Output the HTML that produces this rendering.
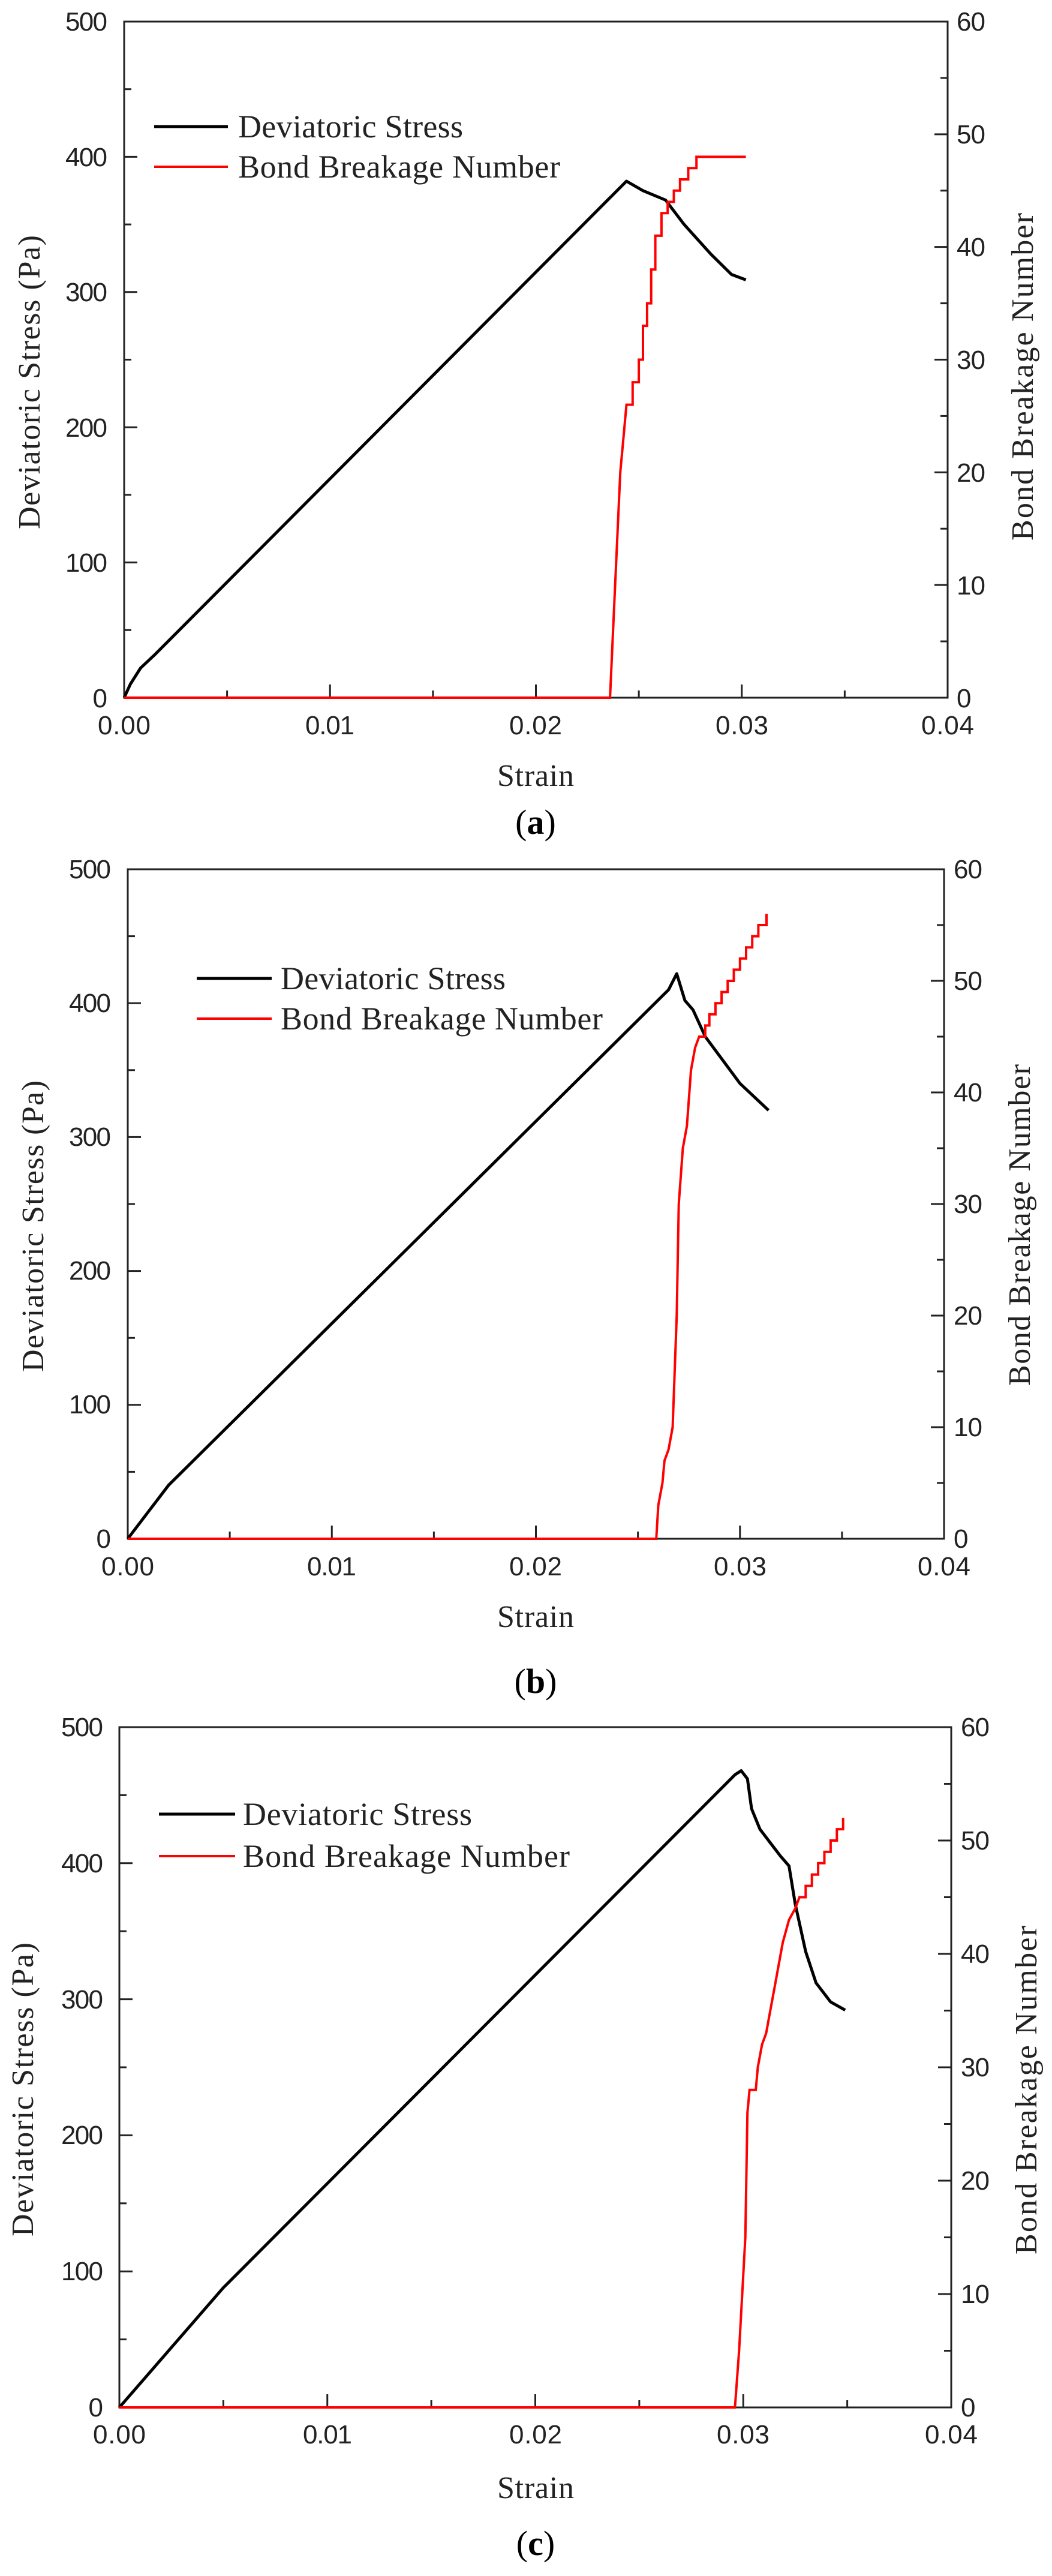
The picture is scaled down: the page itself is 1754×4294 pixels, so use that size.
<!DOCTYPE html>
<html><head><meta charset="utf-8"><style>
html,body{margin:0;padding:0;background:#fff}
svg{display:block}
.tk{font-family:"Liberation Sans",sans-serif;font-size:44px;fill:#222}
.lab{font-family:"Liberation Serif",serif;font-size:52px;fill:#222}
.leg{font-family:"Liberation Serif",serif;font-size:54px;fill:#222}
.cap{font-family:"Liberation Serif",serif;font-size:58px;fill:#000}
</style></head><body>
<svg id="s" width="1754" height="4294" viewBox="0 0 1754 4294" xmlns="http://www.w3.org/2000/svg">
<rect width="1754" height="4294" fill="#fff"/>
<g id="g"></g>
<g>
<text class="tk" x="179" y="51" text-anchor="end" textLength="70">500</text>
<text class="tk" x="179" y="277" text-anchor="end" textLength="70">400</text>
<text class="tk" x="179" y="502" text-anchor="end" textLength="70">300</text>
<text class="tk" x="179" y="728" text-anchor="end" textLength="70">200</text>
<text class="tk" x="179" y="953" text-anchor="end" textLength="70">100</text>
<text class="tk" x="179" y="1179" text-anchor="end" textLength="24">0</text>
<text class="tk" x="1595" y="51" textLength="48">60</text>
<text class="tk" x="1595" y="239" textLength="48">50</text>
<text class="tk" x="1595" y="427" textLength="48">40</text>
<text class="tk" x="1595" y="615" textLength="48">30</text>
<text class="tk" x="1595" y="803" textLength="48">20</text>
<text class="tk" x="1595" y="991" textLength="48">10</text>
<text class="tk" x="1595" y="1179" textLength="24">0</text>
<text class="tk" x="207" y="1224" text-anchor="middle" textLength="88">0.00</text>
<text class="tk" x="550" y="1224" text-anchor="middle" textLength="82">0.01</text>
<text class="tk" x="893" y="1224" text-anchor="middle" textLength="88">0.02</text>
<text class="tk" x="1237" y="1224" text-anchor="middle" textLength="88">0.03</text>
<text class="tk" x="1580" y="1224" text-anchor="middle" textLength="88">0.04</text>
<text class="lab" x="893" y="1310" text-anchor="middle" font-size="46" textLength="128">Strain</text>
<text class="cap" x="893" y="1390" text-anchor="middle">(<tspan font-weight="bold">a</tspan>)</text>
<text class="lab" transform="translate(66,637) rotate(-90)" text-anchor="middle" textLength="490">Deviatoric Stress (Pa)</text>
<text class="lab" transform="translate(1722,628) rotate(-90)" text-anchor="middle" textLength="546">Bond Breakage Number</text>
<text class="leg" x="397" y="229" textLength="375">Deviatoric Stress</text>
<text class="leg" x="397" y="296" textLength="537">Bond Breakage Number</text>
</g>
<g>
<text class="tk" x="185" y="1464" text-anchor="end" textLength="70">500</text>
<text class="tk" x="185" y="1687" text-anchor="end" textLength="70">400</text>
<text class="tk" x="185" y="1910" text-anchor="end" textLength="70">300</text>
<text class="tk" x="185" y="2133" text-anchor="end" textLength="70">200</text>
<text class="tk" x="185" y="2356" text-anchor="end" textLength="70">100</text>
<text class="tk" x="185" y="2580" text-anchor="end" textLength="24">0</text>
<text class="tk" x="1590" y="1464" textLength="48">60</text>
<text class="tk" x="1590" y="1650" textLength="48">50</text>
<text class="tk" x="1590" y="1836" textLength="48">40</text>
<text class="tk" x="1590" y="2022" textLength="48">30</text>
<text class="tk" x="1590" y="2208" textLength="48">20</text>
<text class="tk" x="1590" y="2394" textLength="48">10</text>
<text class="tk" x="1590" y="2580" textLength="24">0</text>
<text class="tk" x="213" y="2626" text-anchor="middle" textLength="88">0.00</text>
<text class="tk" x="553" y="2626" text-anchor="middle" textLength="82">0.01</text>
<text class="tk" x="893" y="2626" text-anchor="middle" textLength="88">0.02</text>
<text class="tk" x="1234" y="2626" text-anchor="middle" textLength="88">0.03</text>
<text class="tk" x="1574" y="2626" text-anchor="middle" textLength="88">0.04</text>
<text class="lab" x="893" y="2712" text-anchor="middle" font-size="46" textLength="128">Strain</text>
<text class="cap" x="893" y="2822" text-anchor="middle">(<tspan font-weight="bold">b</tspan>)</text>
<text class="lab" transform="translate(72,2044) rotate(-90)" text-anchor="middle" textLength="486">Deviatoric Stress (Pa)</text>
<text class="lab" transform="translate(1717,2042) rotate(-90)" text-anchor="middle" textLength="536">Bond Breakage Number</text>
<text class="leg" x="468" y="1649" textLength="375">Deviatoric Stress</text>
<text class="leg" x="468" y="1716" textLength="537">Bond Breakage Number</text>
</g>
<g>
<text class="tk" x="172" y="2894" text-anchor="end" textLength="70">500</text>
<text class="tk" x="172" y="3121" text-anchor="end" textLength="70">400</text>
<text class="tk" x="172" y="3348" text-anchor="end" textLength="70">300</text>
<text class="tk" x="172" y="3574" text-anchor="end" textLength="70">200</text>
<text class="tk" x="172" y="3801" text-anchor="end" textLength="70">100</text>
<text class="tk" x="172" y="4028" text-anchor="end" textLength="24">0</text>
<text class="tk" x="1602" y="2894" textLength="48">60</text>
<text class="tk" x="1602" y="3083" textLength="48">50</text>
<text class="tk" x="1602" y="3272" textLength="48">40</text>
<text class="tk" x="1602" y="3461" textLength="48">30</text>
<text class="tk" x="1602" y="3650" textLength="48">20</text>
<text class="tk" x="1602" y="3839" textLength="48">10</text>
<text class="tk" x="1602" y="4028" textLength="24">0</text>
<text class="tk" x="199" y="4073" text-anchor="middle" textLength="88">0.00</text>
<text class="tk" x="546" y="4073" text-anchor="middle" textLength="82">0.01</text>
<text class="tk" x="893" y="4073" text-anchor="middle" textLength="88">0.02</text>
<text class="tk" x="1239" y="4073" text-anchor="middle" textLength="88">0.03</text>
<text class="tk" x="1586" y="4073" text-anchor="middle" textLength="88">0.04</text>
<text class="lab" x="893" y="4164" text-anchor="middle" font-size="46" textLength="128">Strain</text>
<text class="cap" x="893" y="4259" text-anchor="middle">(<tspan font-weight="bold">c</tspan>)</text>
<text class="lab" transform="translate(55,3483) rotate(-90)" text-anchor="middle" textLength="490">Deviatoric Stress (Pa)</text>
<text class="lab" transform="translate(1728,3484) rotate(-90)" text-anchor="middle" textLength="548">Bond Breakage Number</text>
<text class="leg" x="405" y="3042" textLength="382">Deviatoric Stress</text>
<text class="leg" x="405" y="3112" textLength="545">Bond Breakage Number</text>
</g>
</svg>
<script>
var NS="http://www.w3.org/2000/svg",G=document.getElementById("g");
function el(t,a){var e=document.createElementNS(NS,t);for(var k in a)e.setAttribute(k,a[k]);G.appendChild(e);return e;}
function steps(pts){var o=[];for(var i=0;i<pts.length;i++){if(i>0)o.push([pts[i][0],pts[i-1][1]]);o.push(pts[i]);}return o;}
function panel(P){
 var L=P.L,R=P.R,T=P.T,B=P.B;
 function X(v){return L+(R-L)*v/0.04;} function Y(v){return B-(B-T)*v/500;} function Y2(v){return B-(B-T)*v/60;}
 el("rect",{x:L,y:T,width:R-L,height:B-T,fill:"none",stroke:"#222","stroke-width":3});
 for(var i=1;i<8;i++){var x=L+(R-L)*i/8;el("line",{x1:x,y1:B,x2:x,y2:B-(i%2?12:22),stroke:"#222","stroke-width":3});}
 for(var i=1;i<10;i++){var y=T+(B-T)*i/10;el("line",{x1:L,y1:y,x2:L+(i%2?12:22),y2:y,stroke:"#222","stroke-width":3});}
 for(var i=1;i<12;i++){var y=T+(B-T)*i/12;el("line",{x1:R,y1:y,x2:R-(i%2?12:22),y2:y,stroke:"#222","stroke-width":3});}
 var r=P.red.map(function(p){return X(p[0]).toFixed(1)+","+Y2(p[1]).toFixed(1);}).join(" ");
 var k=P.blk.map(function(p){return X(p[0]).toFixed(1)+","+Y(p[1]).toFixed(1);}).join(" ");
 el("polyline",{points:k,fill:"none",stroke:"#000","stroke-width":5,"stroke-linejoin":"round"});
 el("polyline",{points:r,fill:"none",stroke:"#f00","stroke-width":4,"stroke-linejoin":"miter"});
 el("line",{x1:P.lg[0],y1:P.lg[2],x2:P.lg[1],y2:P.lg[2],stroke:"#000","stroke-width":5});
 el("line",{x1:P.lg[0],y1:P.lg[3],x2:P.lg[1],y2:P.lg[3],stroke:"#f00","stroke-width":4});
}
panel({L:207,R:1580,T:36,B:1163,lg:[257,380,211,278],
 blk:[[0,0],[0.0003,10],[0.0008,22],[0.0015,32],[0.0244,382],[0.0252,375],[0.0263,368],[0.0272,350],[0.0285,328],[0.0295,313],[0.0302,309]],
 red:[[0,0],[0.0236,0],[0.0238,8],[0.0241,20],[0.0243,24]].concat(steps([[0.0244,26],[0.0247,28],[0.0250,30],[0.0252,33],[0.0254,35],[0.0256,38],[0.0258,41],[0.0261,43],[0.0264,44],[0.0267,45],[0.0270,46],[0.0274,47],[0.0278,48]])).concat([[0.0302,48]])});
panel({L:213,R:1574,T:1449,B:2565,lg:[328,453,1631,1698],
 blk:[[0,0],[0.001,20],[0.002,40],[0.0265,410],[0.0269,422],[0.0273,402],[0.0277,395],[0.0283,375],[0.0300,340],[0.0314,320]],
 red:[[0,0],[0.0259,0],[0.0260,3],[0.0262,5],[0.0263,7],[0.0265,8],[0.0267,10],[0.0269,20],[0.0270,30],[0.0272,35],[0.0274,37],[0.0276,42],[0.0278,44]].concat(steps([[0.0280,45],[0.0283,46],[0.0285,47],[0.0288,48],[0.0291,49],[0.0294,50],[0.0297,51],[0.0300,52],[0.0303,53],[0.0306,54],[0.0309,55],[0.0313,56]]))});
panel({L:199,R:1586,T:2879,B:4013,lg:[265,392,3024,3094],
 blk:[[0,0],[0.005,88],[0.0296,465],[0.0299,468],[0.0302,462],[0.0304,440],[0.0308,425],[0.0313,415],[0.0318,405],[0.0322,398],[0.0325,370],[0.0330,335],[0.0335,312],[0.0342,298],[0.0349,292]],
 red:[[0,0],[0.0296,0],[0.0298,5],[0.0301,15],[0.0302,26],[0.0303,28],[0.0306,28],[0.0307,30],[0.0309,32],[0.0311,33],[0.0313,35],[0.0315,37],[0.0317,39],[0.0319,41],[0.0322,43],[0.0325,44]].concat(steps([[0.0327,45],[0.0330,46],[0.0333,47],[0.0336,48],[0.0339,49],[0.0342,50],[0.0345,51],[0.0348,52]]))});
</script>
</body></html>
